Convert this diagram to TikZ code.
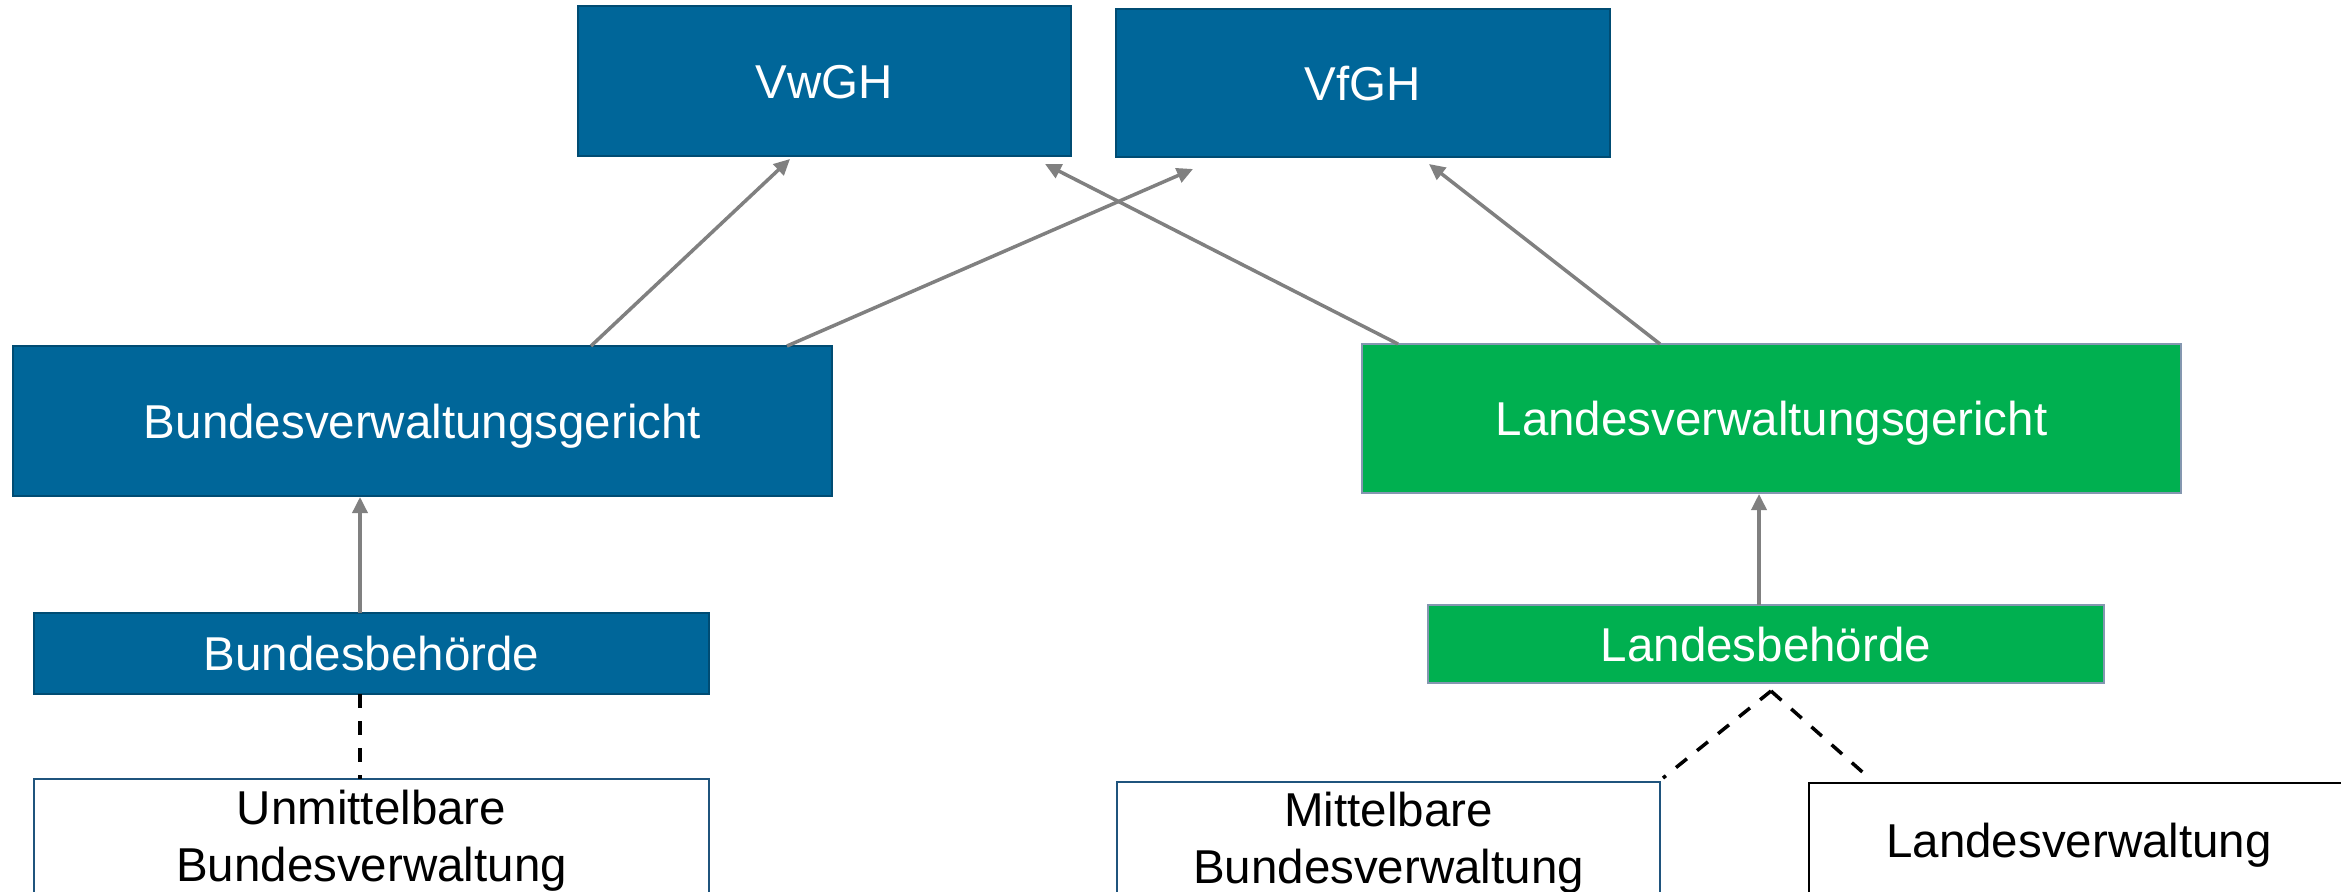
\documentclass[tikz,border=0pt]{standalone}
\usepackage{fontspec}
\setmainfont{Liberation Sans}
\usetikzlibrary{arrows.meta,calc}
\definecolor{cblue}{RGB}{0,102,153}
\definecolor{cblueedge}{RGB}{0,76,115}
\definecolor{cgreen}{RGB}{0,176,80}
\definecolor{cgreenedge}{RGB}{132,151,176}
\definecolor{cgray}{RGB}{128,128,128}
\definecolor{cwhiteedge}{RGB}{31,84,125}
\begin{document}
\begin{tikzpicture}[x=1pt,y=-1pt,
 box/.style={inner sep=0pt, outer sep=0pt, line width=2.5pt, font=\fontsize{47.5}{57}\selectfont, align=center},
 capfix/.style={text height=34pt,text depth=0pt},
 bluebox/.style={box,capfix,fill=cblue,draw=cblueedge,text=white},
 greenbox/.style={box,capfix,fill=cgreen,draw=cgreenedge,text=white},
 whitebox/.style={box,line width=2pt,fill=white,draw=cwhiteedge,text=black},
 link/.style={draw=cgray,line width=3.5pt,-{Triangle[length=16pt,width=15pt]}},
 dashlink/.style={draw=black,line width=3.5pt,dash pattern=on 14pt off 13pt}
]
\clip (0,0) rectangle (2341,891);
\fill[white] (0,0) rectangle (2341,891);

\node[bluebox,minimum width=493pt,minimum height=150pt] (vwgh) at (824.5,81) {VwGH};
\node[bluebox,minimum width=494pt,minimum height=148pt] (vfgh) at (1363,83) {VfGH};
\node[bluebox,minimum width=819pt,minimum height=150pt] (bvg) at (422.5,421) {Bundesverwaltungsgericht};
\node[greenbox,minimum width=819pt,minimum height=149pt] (lvg) at (1771.5,418.5) {Landesverwaltungsgericht};
\node[bluebox,minimum width=675pt,minimum height=81pt] (bb) at (371.5,653.5) {Bundesbehörde};
\node[greenbox,minimum width=676pt,minimum height=78pt] (lb) at (1766,644) {Landesbehörde};
\node[whitebox,minimum width=675pt,minimum height=124pt] (ubv) at (371.5,841) {Unmittelbare\\Bundesverwaltung};
\node[whitebox,minimum width=543pt,minimum height=122pt] (mbv) at (1388.5,843) {Mittelbare\\Bundesverwaltung};
\node[whitebox,capfix,draw=black,minimum width=540pt,minimum height=114pt] (lv) at (2079,840) {Landesverwaltung};

\draw[link] ([xshift=578pt]bvg.north west) -- ([xshift=212pt,yshift=-3pt]vwgh.south west);
\draw[link] ([xshift=774pt]bvg.north west) -- ([xshift=77pt,yshift=-12pt]vfgh.south west);
\draw[link] ([xshift=36pt]lvg.north west) -- ([xshift=-26pt,yshift=-8pt]vwgh.south east);
\draw[link] ([xshift=298pt]lvg.north west) -- ([xshift=313pt,yshift=-7pt]vfgh.south west);
\draw[link] ([xshift=326pt]bb.north west) -- ([xshift=347pt,yshift=-1pt]bvg.south west);
\draw[link] ([xshift=331pt]lb.north west) -- ([xshift=397pt,yshift=-1pt]lvg.south west);

\draw[dashlink] ([xshift=326pt]bb.south west) -- ([xshift=326pt]ubv.north west);
\draw[dashlink] ([xshift=343pt,yshift=-8pt]lb.south west) -- ([xshift=3pt,yshift=4pt]mbv.north east);
\draw[dashlink] ([xshift=343pt,yshift=-8pt]lb.south west) -- ([xshift=59pt,yshift=6pt]lv.north west);
\end{tikzpicture}
\end{document}
